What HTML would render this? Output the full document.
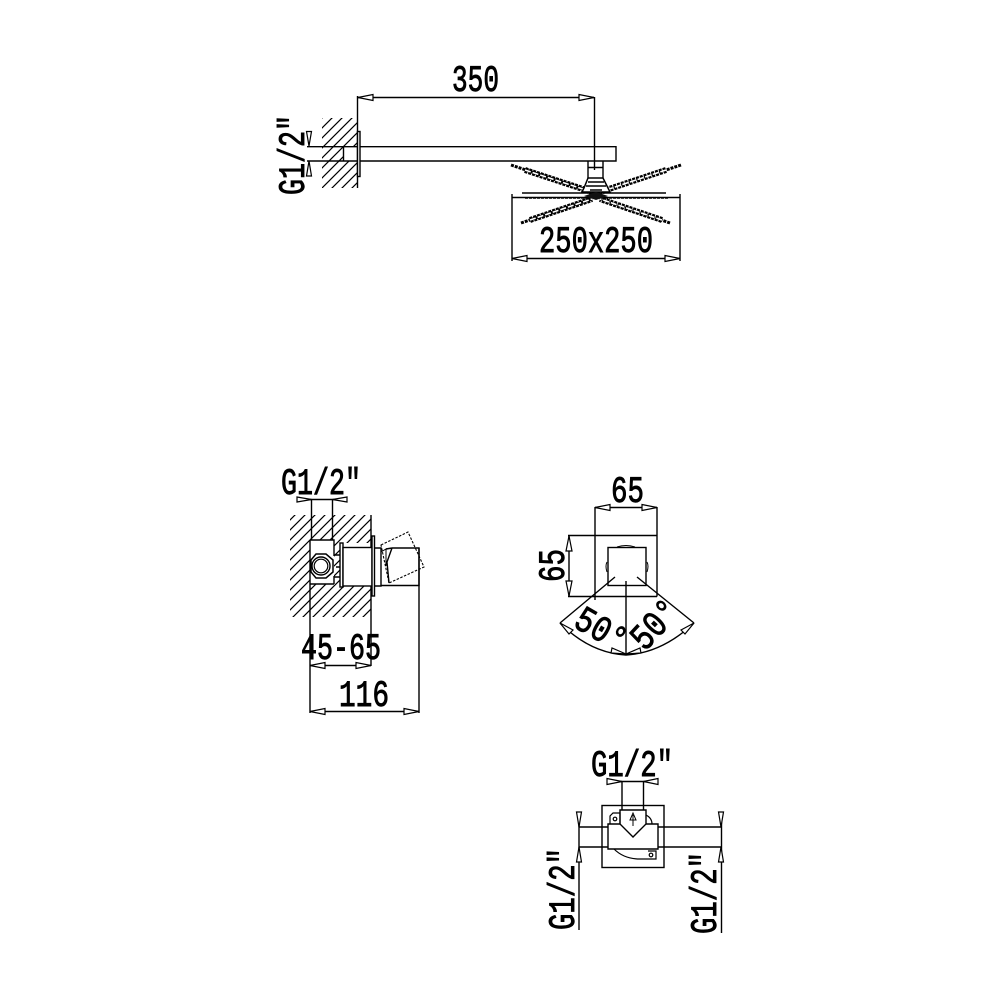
<!DOCTYPE html>
<html><head><meta charset="utf-8"><style>
html,body{margin:0;padding:0;background:#fff}
svg{display:block}
text{font-family:"Liberation Mono",monospace;font-size:37px;fill:#000;stroke:#000;stroke-width:.9}
.a{fill:#fff;stroke:#000;stroke-width:1.2}
</style></head><body>
<svg width="1000" height="1000" viewBox="0 0 1000 1000" xmlns="http://www.w3.org/2000/svg">
<defs>
<pattern id="h" patternUnits="userSpaceOnUse" width="10" height="10"><path d="M-1 11L11 -1M-1 1L1 -1M9 11L11 9" stroke="#000" stroke-width="1.2"/></pattern>
</defs>
<rect width="1000" height="1000" fill="#fff"/>

<!-- TOP -->
<rect x="322" y="118" width="35" height="70" fill="url(#h)"/>
<rect x="344" y="147" width="14" height="14" fill="#fff"/>
<g fill="none" stroke="#000" stroke-width="1.4">
<path d="M357.500 96V188M358 97.500H594M594.500 97V170"/>
<path d="M307 146.700H616V161H307M616 146.700V161M343.500 147V161"/>
<rect x="357.500" y="131.500" width="2.500" height="45" fill="#fff"/>
<path d="M588 161V178M603 161V178M588 167.500H603"/>
<path d="M512 194V261M680 194V261M512 258.500H680"/>
<path d="M512 197.500H680M522 193H666"/>
</g>
<path class="a" d="M358 97.500L373 94.500V100.500Z"/>
<path class="a" d="M594 97.500L579 94.500V100.500Z"/>
<path class="a" d="M309 146L306.500 131.500H311.500Z"/>
<path class="a" d="M309 161L306.500 176H311.500Z"/>
<path class="a" d="M512 258.500L527 255.500V261.500Z"/>
<path class="a" d="M680 258.500L665 255.500V261.500Z"/>
<g fill="none" stroke="#000">
<path d="M525 198H668" stroke-width="1.500" stroke-dasharray="3 1"/>
<path d="M525 170L592 192M666 170L600 192M530 220L592 199M662 220L600 199" stroke-width="6" stroke-dasharray="3 1"/>
<path d="M511 165L592 192M681 165L600 192M521 223L592 199M670 223L600 199" stroke-width="3" stroke-dasharray="3 1"/>
<path d="M525 170L592 192M666 170L600 192M530 220L592 199M662 220L600 199" stroke-width="1.600" stroke="#fff" stroke-dasharray="6 2"/>
<path d="M584 188L588 178H603L608 188L610 192H582Z" stroke-width="1.500" fill="#fff"/>
<path d="M586 186H606M588 182H604M590 190H602" stroke-width="1.600"/>
</g>
<path d="M584 196L596 192L608 196L596 200Z" fill="#111"/>

<text x="452" y="91" textLength="47" lengthAdjust="spacingAndGlyphs">350</text>
<text x="539" y="252" textLength="114" lengthAdjust="spacingAndGlyphs">250x250</text>
<text transform="translate(304,195) rotate(-90)" textLength="80" lengthAdjust="spacingAndGlyphs">G1/2"</text>

<!-- MID LEFT -->
<rect x="290" y="515" width="81" height="102" fill="url(#h)"/>
<rect x="310" y="540" width="24" height="44" fill="#fff"/>
<rect x="340" y="543" width="31" height="43" fill="#fff"/>
<g fill="none" stroke="#000" stroke-width="1.400">
<path d="M311.500 499V540M332.500 499V540M297 499.500H347"/>
<path d="M371 515V666M310 540V713M419 548V713"/>
<path d="M310 665.500H371M310 711.500H419"/>
<path d="M310 540H334V556M334 576V584M310 584H334"/>
<path d="M334 555H340M334 577H340M336 567H340"/>
<rect x="340" y="543" width="3" height="44" fill="#fff"/>
<rect x="343" y="547.500" width="29" height="38.500" fill="#fff"/>
<rect x="372" y="536" width="2.500" height="60" fill="#fff"/>
<path d="M374 548H381V586H374M381 548V586"/>
<path d="M392 548H419V585.500H381M386 549L392 548M392 548L387 562L389 583"/>
<path d="M381 545L408 532L424 567L389 583Z" stroke-width="1.100" stroke-dasharray="2.500 1.500"/>
<path d="M381 552L386 549L386 566" stroke-width="1"/>
<path d="M311 560L316 554H326L333 560V572L326 578H316L311 572Z" stroke-width="1.500" fill="#fff"/>
<circle cx="321" cy="566" r="9" stroke-width="1.400" fill="#fff"/>
<circle cx="321" cy="566" r="6.800" stroke-width="1.200"/>
</g>
<path class="a" d="M311.500 499.500L297 497V502Z"/>
<path class="a" d="M332.500 499.500L347 497V502Z"/>
<path class="a" d="M310 665.500L325 662.500V668.500Z"/>
<path class="a" d="M371 665.500L356 662.500V668.500Z"/>
<path class="a" d="M310 711.500L325 708.500V714.500Z"/>
<path class="a" d="M419 711.500L404 708.500V714.500Z"/>
<text x="281" y="494" textLength="80" lengthAdjust="spacingAndGlyphs">G1/2"</text>
<text x="301" y="659" textLength="80" lengthAdjust="spacingAndGlyphs">45-65</text>
<text x="339" y="706" textLength="50" lengthAdjust="spacingAndGlyphs">116</text>

<!-- MID RIGHT -->
<g fill="none" stroke="#000" stroke-width="1.400">
<path d="M595 507V600M657 507V596.500M595 507.500H657"/>
<path d="M568 535.500H657M568 596.500H657M569 536V596"/>
<rect x="608" y="547.500" width="38" height="38"/>
<path d="M617 547Q626 544 635 547M607 562Q605 566 607 572M647 562Q649 566 647 572" stroke-width="1"/>
<path d="M615 577L560 623M637 577L694 623M626 581V655"/>
<path d="M560 623Q590 653 626 655Q662 653 694 623"/>
</g>
<path class="a" d="M595 507.500L610 504.500V510.500Z"/>
<path class="a" d="M657 507.500L642 504.500V510.500Z"/>
<path class="a" d="M569 536L566 551H572Z"/>
<path class="a" d="M569 596L566 581H572Z"/>
<path class="a" d="M560 623L573 630L569 634Z"/>
<path class="a" d="M694 623L681 630L685 634Z"/>
<path class="a" d="M626 654L612 648L611 653Z"/>
<path class="a" d="M626 654L640 648L641 653Z"/>
<text x="611" y="502" textLength="33" lengthAdjust="spacingAndGlyphs">65</text>
<text transform="translate(564,582) rotate(-90)" textLength="33" lengthAdjust="spacingAndGlyphs">65</text>
<text transform="translate(572,626) rotate(30)" textLength="54" lengthAdjust="spacingAndGlyphs">50°</text>
<text transform="translate(645,652) rotate(-47)" textLength="54" lengthAdjust="spacingAndGlyphs">50°</text>

<!-- BOTTOM -->
<g fill="none" stroke="#000" stroke-width="1.400">
<path d="M622 781V810M643.500 781V810M607 781.500H658"/>
<rect x="602" y="805.500" width="62" height="62"/>
<path d="M579 827H608M579 847H608M658 827H722M658 847H722"/>
<path d="M579 812V930M721.500 812V933"/>
<path d="M614 849Q624 859 640 859H656V851H648" stroke-width="1.200"/>
<circle cx="651" cy="855" r="1.800" stroke-width="1.200"/>
<path d="M608 824H658V849H608Z" fill="#fff"/>
<path d="M620 824V810H646V824L633 837Z" fill="#fff"/>
<path d="M633 826V815M630 820L633 813L636 820Z" stroke-width="1"/>
<path d="M610 824V816L613 813H620V824" stroke-width="1.200"/>
<circle cx="615" cy="819" r="1.800" stroke-width="1.200"/>
<path d="M646 815Q652 818 652 824" stroke-width="1.200"/>
</g>
<path class="a" d="M622 781.500L607 778.500V784.500Z"/>
<path class="a" d="M643.500 781.500L658 778.500V784.500Z"/>
<path class="a" d="M579 827L576.500 812H581.500Z"/>
<path class="a" d="M579 847L576.500 862H581.500Z"/>
<path class="a" d="M721 827L718.500 812H723.500Z"/>
<path class="a" d="M721 847L718.500 862H723.500Z"/>
<text x="591" y="776" textLength="82" lengthAdjust="spacingAndGlyphs">G1/2"</text>
<text transform="translate(574,930) rotate(-90)" textLength="82" lengthAdjust="spacingAndGlyphs">G1/2"</text>
<text transform="translate(716,934) rotate(-90)" textLength="82" lengthAdjust="spacingAndGlyphs">G1/2"</text>
</svg>
</body></html>
